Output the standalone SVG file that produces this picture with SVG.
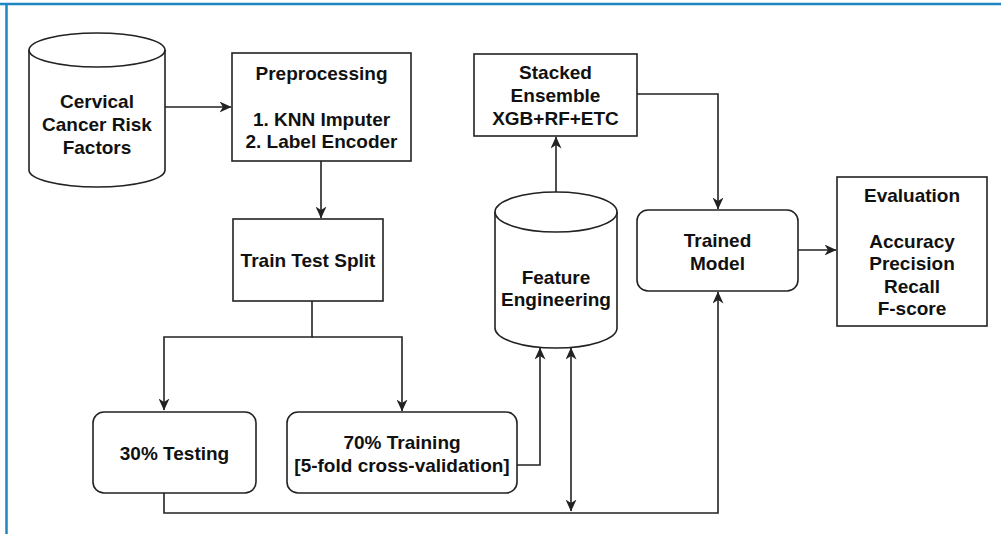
<svg xmlns="http://www.w3.org/2000/svg" width="1001" height="534" viewBox="0 0 1001 534">
<style>
.n{fill:#fff;stroke:#222;stroke-width:1.6}
.c{fill:none;stroke:#222;stroke-width:1.6}
text{font-family:"Liberation Sans",Arial,sans-serif;font-weight:bold;font-size:19px;fill:#111;text-anchor:middle}
</style>
<defs>
<marker id="ah" viewBox="0 0 12 11" refX="11.5" refY="5.5" markerWidth="12" markerHeight="11" markerUnits="userSpaceOnUse" orient="auto-start-reverse">
<path d="M0,0 L12,5.5 L0,11 L3.5,5.5 Z" fill="#222"/>
</marker>
</defs>
<rect width="1001" height="534" fill="#fff"/>
<line x1="0" y1="4" x2="1001" y2="4" stroke="#1f86c1" stroke-width="2.5"/>
<line x1="6.5" y1="3" x2="6.5" y2="534" stroke="#1f86c1" stroke-width="2.5"/>

<g id="connectors">
<line class="c" x1="165" y1="107" x2="231" y2="107" marker-end="url(#ah)"/>
<line class="c" x1="321" y1="161" x2="321" y2="218" marker-end="url(#ah)"/>
<polyline class="c" points="312,301 312,337 164,337 164,410" marker-end="url(#ah)"/>
<polyline class="c" points="312,337 402,337 402,411" marker-end="url(#ah)"/>
<polyline class="c" points="517,465 540,465 540,348" marker-end="url(#ah)"/>
<line class="c" x1="571" y1="348" x2="571" y2="511" marker-start="url(#ah)" marker-end="url(#ah)"/>
<polyline class="c" points="164,493 164,513 718,513 718,292" marker-end="url(#ah)"/>
<line class="c" x1="556" y1="192" x2="556" y2="137" marker-end="url(#ah)"/>
<polyline class="c" points="637,94 718,94 718,209" marker-end="url(#ah)"/>
<line class="c" x1="798" y1="250" x2="836" y2="250" marker-end="url(#ah)"/>
</g>

<g id="cervical">
<path class="n" d="M29,50 A68,17 0 0 1 165,50 L165,170 A68,17 0 0 1 29,170 Z"/>
<path class="c" d="M29,50 A68,17 0 0 0 165,50"/>
<text x="97" y="107.5">Cervical</text>
<text x="97" y="130.5">Cancer Risk</text>
<text x="97" y="153.5">Factors</text>
</g>

<g id="preprocessing">
<rect class="n" x="232" y="53" width="179" height="108"/>
<text x="321.5" y="79.5">Preprocessing</text>
<text x="321.5" y="125.5">1. KNN Imputer</text>
<text x="321.5" y="147.5">2. Label Encoder</text>
</g>

<g id="split">
<rect class="n" x="233" y="219" width="150" height="82"/>
<text x="308" y="266.5">Train Test Split</text>
</g>

<g id="testing">
<rect class="n" x="93" y="412" width="163" height="81" rx="11"/>
<text x="174.5" y="459.5">30% Testing</text>
</g>

<g id="training">
<rect class="n" x="287" y="412" width="230" height="81" rx="11"/>
<text x="402" y="448.5">70% Training</text>
<text x="402" y="471.5">[5-fold cross-validation]</text>
</g>

<g id="feature">
<path class="n" d="M495,212 A61,20 0 0 1 617,212 L617,328 A61,20 0 0 1 495,328 Z"/>
<path class="c" d="M495,212 A61,20 0 0 0 617,212"/>
<text x="556" y="283.5">Feature</text>
<text x="556" y="305.5">Engineering</text>
</g>

<g id="stacked">
<rect class="n" x="474" y="54" width="163" height="82"/>
<text x="555.5" y="78.5">Stacked</text>
<text x="555.5" y="101.5">Ensemble</text>
<text x="555.5" y="124.5">XGB+RF+ETC</text>
</g>

<g id="trained">
<rect class="n" x="637" y="210" width="161" height="81" rx="11"/>
<text x="717.5" y="246.5">Trained</text>
<text x="717.5" y="269.5">Model</text>
</g>

<g id="evaluation">
<rect class="n" x="837" y="177" width="150" height="149"/>
<text x="912" y="201.5">Evaluation</text>
<text x="912" y="247.5">Accuracy</text>
<text x="912" y="269.5">Precision</text>
<text x="912" y="292.5">Recall</text>
<text x="912" y="314.5">F-score</text>
</g>
</svg>
